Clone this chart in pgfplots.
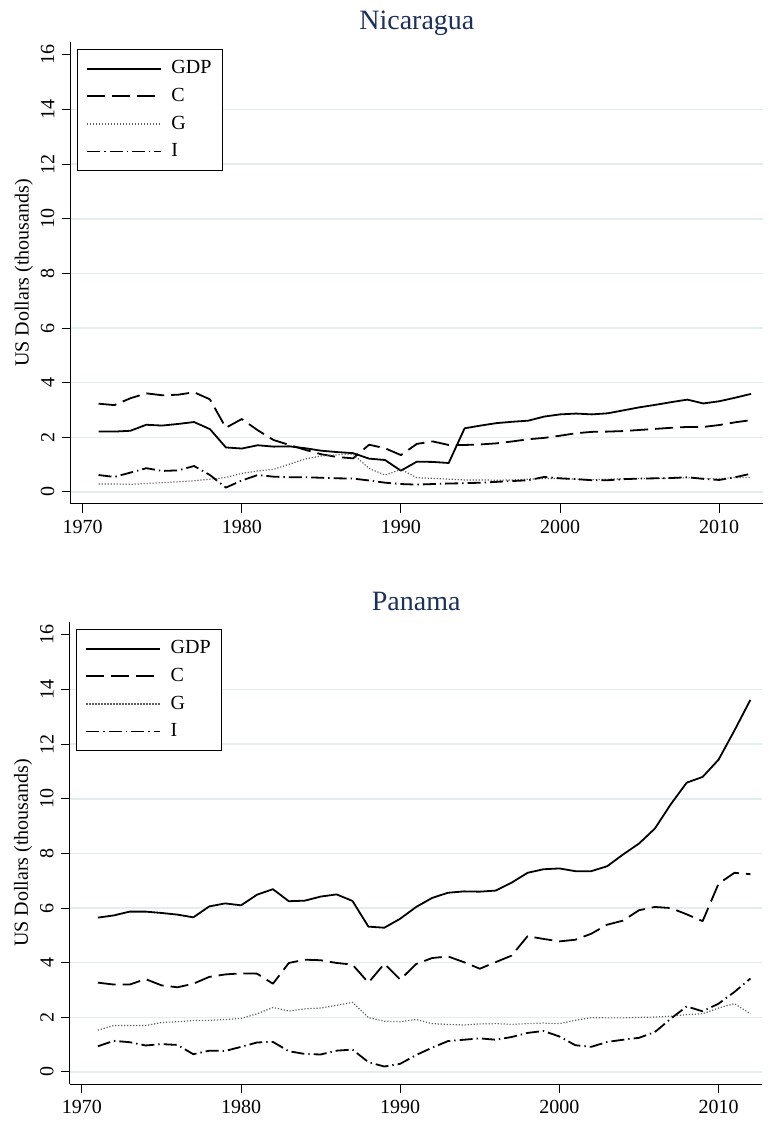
\documentclass[border=0pt]{standalone}
\usepackage{fontspec}
\setmainfont{Liberation Serif}
\usepackage{pgfplots}
\usepackage{pgfplotstable}
\pgfplotsset{compat=1.18}

\definecolor{gridcol}{RGB}{228,237,237}
\definecolor{titlecol}{RGB}{28,48,92}
\definecolor{dotcol}{RGB}{95,95,95}

% Per-capita components, thousands of US dollars
\pgfplotstableread{
year GDP C G I
1971 2.21 3.23 0.29 0.62
1972 2.21 3.18 0.29 0.55
1973 2.24 3.43 0.28 0.71
1974 2.46 3.61 0.31 0.87
1975 2.43 3.54 0.34 0.77
1976 2.49 3.56 0.37 0.79
1977 2.56 3.65 0.41 0.95
1978 2.30 3.39 0.47 0.62
1979 1.63 2.35 0.53 0.16
1980 1.59 2.67 0.68 0.42
1981 1.71 2.26 0.77 0.62
1982 1.66 1.90 0.83 0.56
1983 1.67 1.72 1.02 0.54
1984 1.60 1.54 1.21 0.54
1985 1.51 1.38 1.32 0.52
1986 1.46 1.28 1.36 0.50
1987 1.42 1.23 1.38 0.49
1988 1.22 1.73 0.86 0.42
1989 1.17 1.60 0.62 0.34
1990 0.78 1.35 0.83 0.29
1991 1.11 1.76 0.52 0.27
1992 1.10 1.85 0.50 0.29
1993 1.06 1.72 0.47 0.31
1994 2.33 1.72 0.44 0.32
1995 2.43 1.74 0.44 0.34
1996 2.52 1.78 0.43 0.37
1997 2.57 1.85 0.44 0.40
1998 2.61 1.93 0.47 0.43
1999 2.76 1.98 0.49 0.55
2000 2.84 2.06 0.49 0.50
2001 2.87 2.15 0.47 0.47
2002 2.84 2.20 0.45 0.43
2003 2.88 2.21 0.47 0.43
2004 2.99 2.23 0.48 0.47
2005 3.10 2.27 0.49 0.49
2006 3.19 2.31 0.50 0.50
2007 3.29 2.35 0.51 0.51
2008 3.38 2.38 0.52 0.54
2009 3.24 2.38 0.49 0.48
2010 3.32 2.45 0.49 0.44
2011 3.45 2.55 0.52 0.54
2012 3.59 2.63 0.53 0.67
}\nicaragua

\pgfplotstableread{
year GDP C G I
1971 5.65 3.27 1.53 0.94
1972 5.73 3.20 1.70 1.14
1973 5.87 3.20 1.70 1.09
1974 5.87 3.40 1.70 0.97
1975 5.82 3.17 1.81 1.02
1976 5.76 3.10 1.84 0.99
1977 5.66 3.23 1.88 0.65
1978 6.06 3.48 1.89 0.78
1979 6.17 3.57 1.92 0.77
1980 6.10 3.61 1.96 0.92
1981 6.49 3.60 2.13 1.08
1982 6.69 3.23 2.36 1.10
1983 6.25 3.99 2.23 0.76
1984 6.27 4.11 2.31 0.66
1985 6.42 4.09 2.34 0.64
1986 6.50 3.99 2.44 0.78
1987 6.26 3.93 2.55 0.82
1988 5.32 3.27 1.99 0.36
1989 5.28 3.96 1.86 0.20
1990 5.61 3.38 1.84 0.30
1991 6.04 3.95 1.92 0.62
1992 6.37 4.17 1.77 0.89
1993 6.56 4.23 1.74 1.13
1994 6.61 4.02 1.72 1.18
1995 6.60 3.78 1.76 1.23
1996 6.64 4.02 1.77 1.18
1997 6.93 4.26 1.74 1.28
1998 7.29 4.97 1.77 1.43
1999 7.42 4.87 1.79 1.50
2000 7.45 4.78 1.77 1.30
2001 7.35 4.84 1.89 0.98
2002 7.35 5.06 1.99 0.92
2003 7.53 5.39 1.98 1.10
2004 7.96 5.54 1.98 1.18
2005 8.36 5.92 2.00 1.25
2006 8.91 6.04 2.01 1.46
2007 9.80 6.00 2.04 1.95
2008 10.59 5.77 2.10 2.40
2009 10.80 5.52 2.13 2.22
2010 11.43 6.89 2.34 2.50
2011 12.50 7.29 2.50 2.93
2012 13.62 7.24 2.13 3.42
}\panama

\pgfplotsset{
  every axis title/.style={
    at={(axis description cs:0.5,1)}, anchor=base, yshift=6pt, inner sep=0pt,
    font=\fontsize{14}{16}\selectfont, text=titlecol},
  panel/.style={
    scale only axis,
    width=346.15pt, height=231pt,
    anchor=south west,
    xmin=1969.25, xmax=2012.75,
    ymin=-0.44, ymax=16.47,
    axis x line=bottom, axis y line=left,
    axis line style={-, black, line width=0.5pt},
    tick align=outside,
    major tick length=4.5pt,
    tick style={black, line width=0.5pt},
    xtick={1970,1980,1990,2000,2010},
    ytick={0,2,...,16},
    /pgf/number format/1000 sep={},
    /pgf/number format/assume math mode=true,
    ticklabel style={font=\fontsize{10}{12}\selectfont},
    yticklabel style={rotate=90, anchor=south, inner sep=3.5pt},
    extra y ticks={0,2,...,14},
    extra y tick labels={},
    extra y tick style={grid=major, major tick length=0pt,
      major grid style={gridcol, line width=0.8pt}},
    ylabel={US Dollars (thousands)},
    ylabel style={font=\fontsize{10}{12}\selectfont, anchor=center,
      at={([xshift=-23.5pt]axis description cs:0,0.5)}},
    legend cell align=left,
    legend image code/.code={\draw[##1] (0pt,0pt) -- (37pt,0pt);},
    legend style={
      at={([xshift=3pt,yshift=-3.3pt]axis description cs:0,1)},
      anchor=north west,
      draw=black, line width=0.5pt, fill=white,
      inner xsep=4.5pt, inner ysep=3.7pt,
      row sep=1.7pt,
      nodes={inner xsep=1pt},
      font=\fontsize{10}{12}\selectfont,
      /tikz/every odd column/.append style={column sep=3.7pt},
    },
    every axis plot/.append style={line width=0.9pt, line join=round},
  },
  sGDP/.style={black, solid},
  sC/.style={black, dash pattern=on 9pt off 3.5pt},
  sG/.style={dotcol, line width=0.6pt, dash pattern=on 0.6pt off 0.9pt},
  sI/.style={black, dash pattern=on 6.5pt off 2pt on 0.7pt off 2pt},
}

\begin{document}
\begin{tikzpicture}
\path[use as bounding box] (0pt,0pt) rectangle (384.5pt,563pt);

\begin{axis}[panel, at={(35.35pt,311pt)}, title={Nicaragua}]
  \addplot[sGDP] table[x=year, y=GDP] {\nicaragua};
  \addplot[sC] table[x=year, y=C] {\nicaragua};
  \addplot[sG] table[x=year, y=G] {\nicaragua};
  \addplot[sI] table[x=year, y=I] {\nicaragua};
  \legend{GDP, C, G, I}
\end{axis}

\begin{axis}[panel, at={(35pt,21pt)}, title={Panama}]
  \addplot[sGDP] table[x=year, y=GDP] {\panama};
  \addplot[sC] table[x=year, y=C] {\panama};
  \addplot[sG] table[x=year, y=G] {\panama};
  \addplot[sI] table[x=year, y=I] {\panama};
  \legend{GDP, C, G, I}
\end{axis}
\end{tikzpicture}
\end{document}
